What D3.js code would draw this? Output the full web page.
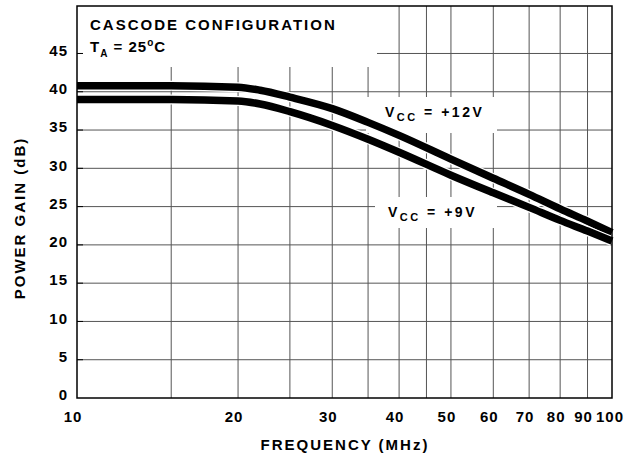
<!DOCTYPE html>
<html>
<head>
<meta charset="utf-8">
<script src="https://cdn.jsdelivr.net/npm/d3@7/dist/d3.min.js"></script>
<style>
  body { margin: 0; background: #fff; }
  text { font-family: "Liberation Sans", Arial, sans-serif; font-weight: bold; fill: #000; }
  .tick { font-size: 15px; letter-spacing: 1px; }
  .title { font-size: 15px; letter-spacing: 2px; }
  .note { font-size: 14px; letter-spacing: 2.5px; }
</style>
</head>
<body>
<script>
// values
const freqLabels = [10, 20, 30, 40, 50, 60, 70, 80, 90, 100];
const freqGrid = [15, 20, 25, 30, 35, 40, 45, 50, 60, 70, 80, 90];
const gainTicks = [0, 5, 10, 15, 20, 25, 30, 35, 40, 45];

const freq = [10, 15, 20, 22, 25, 30, 35, 40, 50, 60, 70, 80, 90, 100];
const gain12V = [40.8, 40.8, 40.6, 40.2, 39.3, 37.8, 36.0, 34.3, 31.2, 28.7, 26.6, 24.7, 23.1, 21.6];
const gain9V = [39.0, 39.0, 38.8, 38.4, 37.4, 35.6, 33.8, 32.1, 29.1, 26.8, 24.9, 23.2, 21.8, 20.5];

const W = 625, H = 453;
const pL = 77, pR = 612, pT = 6, pB = 398;

var svg = d3.select("body").append("svg")
  .attr("width", W)
  .attr("height", H);

var x = d3.scaleLog().domain([10, 100]).range([pL, pR]);
var y = d3.scaleLinear().domain([0, 51.2]).range([pB, pT]);

// grid
svg.append("g").selectAll("line")
  .data(freqGrid)
  .enter().append("line")
  .attr("x1", d => x(d)).attr("x2", d => x(d))
  .attr("y1", pT).attr("y2", pB)
  .attr("stroke", "#555").attr("stroke-width", 1);

svg.append("g").selectAll("line")
  .data(gainTicks.slice(1))
  .enter().append("line")
  .attr("x1", pL).attr("x2", pR)
  .attr("y1", d => y(d)).attr("y2", d => y(d))
  .attr("stroke", "#555").attr("stroke-width", 1);

// white boxes behind the notes
svg.append("rect").attr("x", pL).attr("y", pT).attr("width", 300).attr("height", 61).attr("fill", "#fff");
svg.append("rect").attr("x", 366).attr("y", 97).attr("width", 131).attr("height", 36).attr("fill", "#fff");
svg.append("rect").attr("x", 375).attr("y", 197).attr("width", 122).attr("height", 31).attr("fill", "#fff");

// little inside ticks on the left edge
svg.append("g").selectAll("line")
  .data(gainTicks.slice(1))
  .enter().append("line")
  .attr("x1", pL).attr("x2", pL + 6)
  .attr("y1", d => y(d)).attr("y2", d => y(d))
  .attr("stroke", "#000").attr("stroke-width", 1);

// curves
var line = d3.line()
  .x(d => x(d[0]))
  .y(d => y(d[1]))
  .curve(d3.curveMonotoneX);

[gain12V, gain9V].forEach(function(g) {
  var pts = freq.map((f, i) => [f, g[i]]);
  svg.append("path").attr("d", line(pts))
    .attr("fill", "none").attr("stroke", "#fff").attr("stroke-width", 10);
  svg.append("path").attr("d", line(pts))
    .attr("fill", "none").attr("stroke", "#000").attr("stroke-width", 7.5);
});

// frame
svg.append("rect")
  .attr("x", pL).attr("y", pT)
  .attr("width", pR - pL).attr("height", pB - pT)
  .attr("fill", "none").attr("stroke", "#000").attr("stroke-width", 1.5);

// tick labels
svg.append("g").selectAll("text")
  .data(gainTicks)
  .enter().append("text")
  .attr("class", "tick")
  .attr("x", 68)
  .attr("y", d => y(d) - 3)
  .attr("dy", "0.35em")
  .attr("text-anchor", "end")
  .text(d => d);

// the last label sits against the right edge
svg.append("g").selectAll("text")
  .data(freqLabels)
  .enter().append("text")
  .attr("class", "tick")
  .attr("x", d => d === 100 ? x(d) + 12 : x(d) - 4)
  .attr("y", 422)
  .attr("text-anchor", d => d === 100 ? "end" : "middle")
  .text(d => d);

// axis titles
svg.append("text")
  .attr("class", "title")
  .attr("x", 345).attr("y", 450)
  .attr("text-anchor", "middle")
  .text("FREQUENCY (MHz)");

svg.append("text")
  .attr("class", "title")
  .attr("transform", "translate(25,218) rotate(-90)")
  .attr("text-anchor", "middle")
  .text("POWER GAIN (dB)");

// notes
svg.append("text").attr("class", "title").attr("x", 90).attr("y", 30)
  .text("CASCODE CONFIGURATION");

var ta = svg.append("text").attr("class", "title").attr("x", 90).attr("y", 52)
  .style("letter-spacing", "1px");
ta.append("tspan").text("T");
ta.append("tspan").attr("dy", 5).attr("font-size", 10).text("A");
ta.append("tspan").attr("dy", -5).text(" = 25");
ta.append("tspan").attr("dy", -6).attr("font-size", 10).text("o");
ta.append("tspan").attr("dy", 6).text("C");

function vccLabel(xp, yp, val) {
  var t = svg.append("text").attr("class", "note").attr("x", xp).attr("y", yp);
  t.append("tspan").text("V");
  t.append("tspan").attr("dy", 4).attr("font-size", 11).text("CC");
  t.append("tspan").attr("dy", -4).text(" = " + val);
}
vccLabel(385, 117, "+12V");
vccLabel(388, 217, "+9V");
</script>
</body>
</html>
